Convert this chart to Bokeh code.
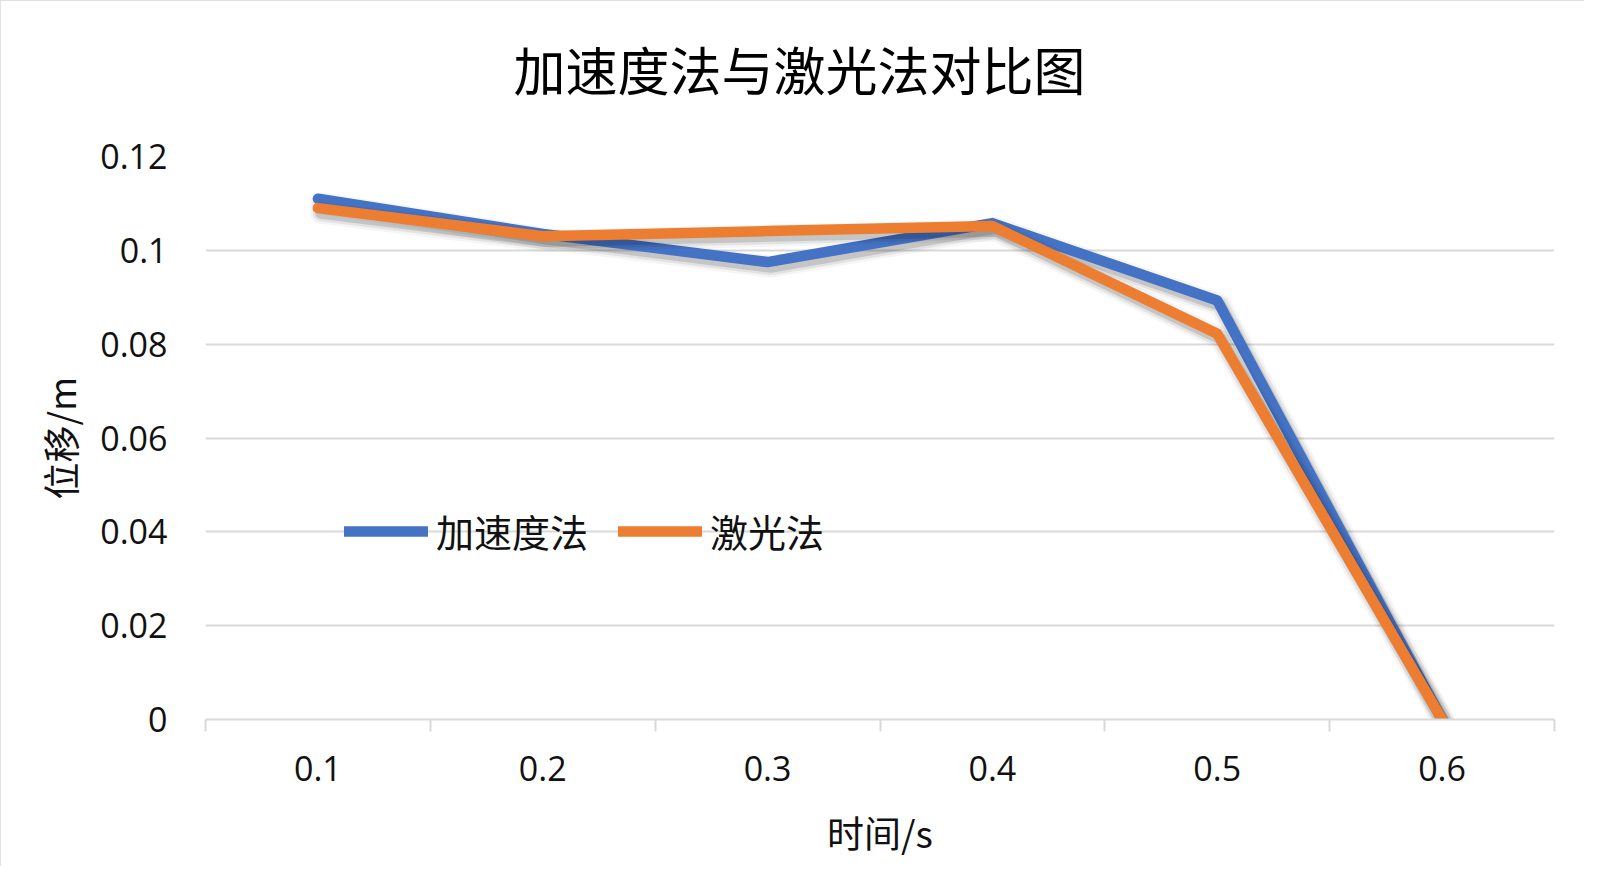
from bokeh.plotting import figure
from bokeh.models import (ColumnDataSource, Range1d, FixedTicker, Legend,
                          LegendItem, Title)
from bokeh.transform import dodge
from bokeh.embed import file_html
from bokeh.resources import INLINE

# ---- data ----
categories = ["0.1", "0.2", "0.3", "0.4", "0.5", "0.6"]
accel = [0.111, 0.1035, 0.0975, 0.1058, 0.0893, 0.0]      # 加速度法
laser = [0.109, 0.1030, 0.1041, 0.1052, 0.0822, 0.0]      # 激光法
y_ticks = [0, 0.02, 0.04, 0.06, 0.08, 0.10, 0.12]
y_tick_labels = ["0", "0.02", "0.04", "0.06", "0.08", "0.1", "0.12"]
series_names = ["加速度法", "激光法"]
title_text = "加速度法与激光法对比图"
x_title = "时间/s"
y_title = "位移/m"

BLUE = "#4472C4"
ORANGE = "#ED7D31"
GRID = "#d9d9d9"
CJK = "Noto Sans CJK SC"
NUM = "Open Sans"

xpos = [i + 1 for i in range(len(categories))]
src = ColumnDataSource(dict(x=xpos, accel=accel, laser=laser))

p = figure(width=1584, height=866, output_backend="svg", toolbar_location=None,
           x_range=Range1d(0.5, len(categories) + 0.5), y_range=Range1d(0, 0.12),
           min_border_left=205, min_border_right=30, min_border_top=154,
           min_border_bottom=147)
p.outline_line_color = None
p.background_fill_color = "white"
p.border_fill_color = "white"
p.styles = {"outline": "2px solid #d9d9d9", "outline-offset": "-2px"}

# spacer between frame and title (keeps the title higher)
p.add_layout(Title(text=" ", text_font_size="2px", standoff=15), "above")

# title
p.title.text = title_text
p.title.align = "left"
p.title.vertical_align = "top"
p.title.offset = 308
p.title.text_font = CJK
p.title.text_font_size = "52px"
p.title.text_font_style = "normal"
p.title.text_color = "#000000"
p.title.standoff = 60

# axes
p.xaxis.ticker = FixedTicker(ticks=xpos, minor_ticks=[i + 0.5 for i in range(len(categories) + 1)])
p.xaxis.major_label_overrides = {xv: c for xv, c in zip(xpos, categories)}
p.xaxis.major_tick_line_color = None
p.xaxis.minor_tick_line_color = GRID
p.xaxis.minor_tick_line_width = 2
p.xaxis.minor_tick_in = 0
p.xaxis.minor_tick_out = 12
p.xaxis.axis_line_color = GRID
p.xaxis.axis_line_width = 2
p.xaxis.major_label_standoff = 24
p.xaxis.major_label_text_font = NUM
p.xaxis.major_label_text_font_size = "34px"
p.xaxis.major_label_text_color = "#111111"
p.xaxis.axis_label = x_title
p.xaxis.axis_label_text_font = CJK
p.xaxis.axis_label_text_font_size = "37px"
p.xaxis.axis_label_text_font_style = "normal"
p.xaxis.axis_label_text_color = "#111111"
p.xaxis.axis_label_standoff = 21

p.yaxis.ticker = FixedTicker(ticks=y_ticks, minor_ticks=[])
p.yaxis.major_label_overrides = {t: l for t, l in zip(y_ticks, y_tick_labels)}
p.yaxis.axis_line_color = None
p.yaxis.major_tick_line_color = None
p.yaxis.minor_tick_line_color = None
p.yaxis.major_label_standoff = 32
p.yaxis.major_label_text_font = NUM
p.yaxis.major_label_text_font_size = "34px"
p.yaxis.major_label_text_color = "#111111"
p.yaxis.axis_label = y_title
p.yaxis.axis_label_text_font = CJK
p.yaxis.axis_label_text_font_size = "37px"
p.yaxis.axis_label_text_font_style = "normal"
p.yaxis.axis_label_text_color = "#111111"
p.yaxis.axis_label_standoff = 10

p.xgrid.grid_line_color = None
p.ygrid.grid_line_color = GRID
p.ygrid.grid_line_width = 2

# lines with soft shadow
renderers = []
for field, color in (("accel", BLUE), ("laser", ORANGE)):
    for w, a in ((22, 0.04), (17, 0.07), (12, 0.13)):
        p.line(x=dodge("x", 0.014), y=dodge(field, -0.001), source=src,
               line_color="black", line_alpha=a, line_width=w,
               line_cap="round", line_join="round")
    r = p.line(x="x", y=field, source=src, line_color=color, line_width=10.5,
               line_cap="round", line_join="round")
    renderers.append(r)

legend = Legend(items=[LegendItem(label=n, renderers=[r]) for n, r in zip(series_names, renderers)],
                orientation="horizontal", location=(139, 161),
                glyph_width=84, glyph_height=40, label_height=40,
                label_standoff=8, spacing=30, padding=0, margin=0,
                label_text_font=CJK, label_text_font_size="38px",
                label_text_color="#111111",
                background_fill_alpha=0, border_line_color=None)
p.add_layout(legend, "center")

open("out.html", "w").write(file_html(p, INLINE))
